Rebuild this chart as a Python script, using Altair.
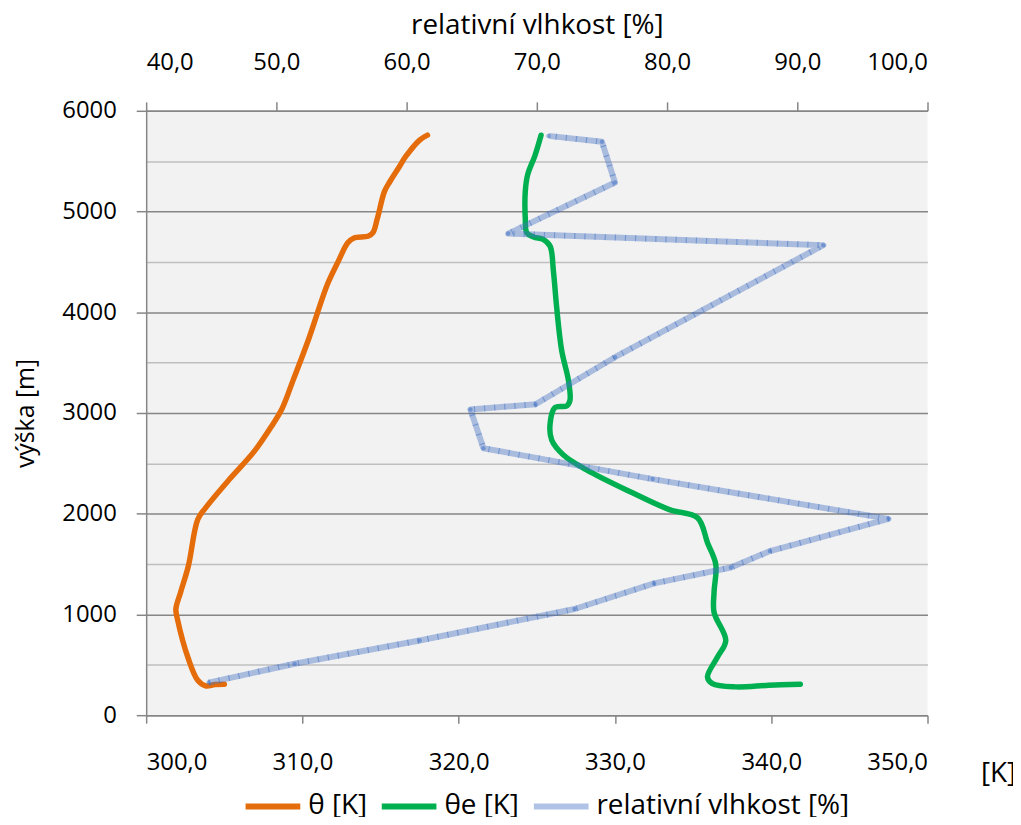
import altair as alt
import pandas as pd

# ---- data ----
series = ["θ [K]", "θe [K]", "relativní vlhkost [%]"]

theta_h = [307, 304, 291, 346, 560, 955, 1054, 1219, 1481, 1942, 2058, 2337, 2616, 2863,
           3045, 3324, 3735, 4278, 4508, 4689, 4738, 4755, 4787, 4935, 5200, 5298, 5445,
           5544, 5709, 5758]
theta_K = [305.0, 304.4, 303.8, 303.3, 302.7, 302.0, 301.9, 302.2, 302.7, 303.3, 303.8,
           305.3, 306.9, 308.0, 308.7, 309.4, 310.4, 311.6, 312.3, 312.9, 313.3, 314.2,
           314.5, 314.8, 315.25, 315.6, 316.2, 316.6, 317.5, 318.0]

thetae_h = [307, 297, 281, 314, 380, 577, 741, 1021, 1219, 1498, 1712, 1959, 2041, 2221,
            2436, 2584, 2732, 2897, 3055, 3070, 3126, 3324, 3620, 4047, 4409, 4656, 4722,
            4748, 4787, 4935, 5199, 5364, 5561, 5758]
thetae_K = [341.86, 339.84, 337.72, 336.23, 335.92, 336.56, 337.09, 336.34, 336.34, 336.45,
            335.92, 335.29, 333.48, 330.94, 328.18, 326.70, 325.95, 325.85, 326.17, 326.91,
            327.12, 327.02, 326.59, 326.27, 326.06, 325.85, 325.43, 324.79, 324.36, 324.26,
            324.26, 324.41, 324.89, 325.27]

rh_h = [324, 511, 741, 1054, 1308, 1466, 1629, 1949, 2344, 2650, 3035, 3087, 3554, 4666,
        4781, 5288, 5692, 5751]
rh_pct = [44.8, 51.4, 61.0, 72.9, 79.0, 84.9, 87.9, 97.0, 78.9, 65.9, 64.9, 69.9, 76.0,
          92.0, 67.8, 76.0, 75.0, 70.9]

x_ticks_K = [300, 310, 320, 330, 340, 350]
x_ticks_rh = [40, 50, 60, 70, 80, 90, 100]
y_ticks = list(range(0, 6001, 500))

colors = ["#E46C0A", "#00B050", "#4472C4"]

FONT = "Open Sans"
BLACK = "#000000"
AXIS_GRAY = "#868686"
RH_OPACITY = 0.42
TICK_FS = 24
TITLE_FS = 28

dfK = pd.concat([
    pd.DataFrame({"K": theta_K, "h": theta_h, "series": series[0], "idx": range(len(theta_K))}),
    pd.DataFrame({"K": thetae_K, "h": thetae_h, "series": series[1], "idx": range(len(thetae_K))}),
])
dfRH = pd.DataFrame({"rh": rh_pct, "h": rh_h, "series": series[2], "idx": range(len(rh_pct))})

legend_opacity_expr = "datum.value == '" + series[2] + "' ? " + str(RH_OPACITY) + " : 1"

legend = alt.Legend(
    title=None, orient="none", legendX=97, legendY=669, direction="horizontal", columns=3,
    symbolType="stroke", symbolSize=3025, symbolStrokeWidth=6,
    labelFont=FONT, labelFontSize=TITLE_FS, labelColor=BLACK, labelOffset=5, labelLimit=500,
    columnPadding=2,
    symbolOpacity=alt.ExprRef(expr=legend_opacity_expr),
)
color_enc = alt.Color("series:N", scale=alt.Scale(domain=series, range=colors), legend=legend)

y_enc = alt.Y(
    "h:Q",
    scale=alt.Scale(domain=[0, 6000], nice=False, zero=False),
    axis=alt.Axis(
        values=y_ticks,
        labelExpr="datum.value % 1000 == 0 ? format(datum.value, 'd') : ''",
        title="výška [m]", titleFont=FONT, titleFontSize=25, titleFontWeight="normal",
        titleColor=BLACK, titleX=-121, titleY=304, titleAlign="center", titleBaseline="middle",
        titleAngle=-90,
        labelFont=FONT, labelFontSize=TICK_FS, labelColor=BLACK, labelPadding=20,
        tickSize=10, tickWidth=1.5,
        tickColor={"condition": {"test": "datum.value % 1000 == 0", "value": AXIS_GRAY},
                   "value": "transparent"},
        grid=True, gridWidth=1.5,
        gridColor={"condition": {"test": "datum.value % 1000 == 0", "value": AXIS_GRAY},
                   "value": "#BFBFBF"},
        domainColor=AXIS_GRAY, domainWidth=1.5,
    ),
)

x_K = alt.X(
    "K:Q",
    scale=alt.Scale(domain=[300, 350], nice=False, zero=False),
    axis=alt.Axis(
        orient="bottom", values=x_ticks_K,
        labelExpr="replace(format(datum.value, '.1f'), '.', ',')",
        labelFont=FONT, labelFontSize=TICK_FS, labelColor=BLACK,
        labelBaseline="alphabetic", labelPadding=47,
        tickSize=8, tickWidth=1.5, tickColor=AXIS_GRAY,
        domainColor=AXIS_GRAY, domainWidth=1.5, grid=False,
        title="[K]", titleFont=FONT, titleFontSize=TITLE_FS, titleFontWeight="normal",
        titleColor=BLACK, titleX=857, titleY=59, titleAlign="center",
        titleBaseline="middle",
    ),
)

x_rh = alt.X(
    "rh:Q",
    scale=alt.Scale(domain=[40, 100], nice=False, zero=False),
    axis=alt.Axis(
        orient="top", values=x_ticks_rh,
        labelExpr="replace(format(datum.value, '.1f'), '.', ',')",
        labelFont=FONT, labelFontSize=TICK_FS, labelColor=BLACK,
        labelBaseline="alphabetic", labelPadding=33,
        tickSize=9, tickWidth=1.5, tickColor=AXIS_GRAY,
        domainColor=AXIS_GRAY, domainWidth=1.5, grid=False,
        title="relativní vlhkost [%]", titleFont=FONT, titleFontSize=TITLE_FS,
        titleFontWeight="normal", titleColor=BLACK, titleX=393, titleY=-86,
        titleAlign="center", titleBaseline="middle",
    ),
)

base_K = alt.Chart(dfK).mark_line(
    strokeWidth=5.5, strokeCap="round", strokeJoin="round", interpolate="catmull-rom"
).encode(
    x=x_K, y=y_enc, color=color_enc, order=alt.Order("idx:Q"),
)

rh_line = alt.Chart(dfRH).mark_line(
    strokeWidth=6, strokeJoin="round", strokeOpacity=RH_OPACITY
).encode(x=x_rh, y=y_enc, color=color_enc, order=alt.Order("idx:Q"))

rh_hatch = alt.Chart(dfRH).mark_line(
    strokeWidth=6, strokeDash=[1.2, 9], strokeCap="butt", color="#4472C4", strokeOpacity=0.5
).encode(x=x_rh, y=y_enc, order=alt.Order("idx:Q"))

rh_pts = alt.Chart(dfRH).mark_point(filled=True, size=20, color="#4472C4", opacity=0.55).encode(
    x=x_rh, y=y_enc,
)

rh_layer = alt.layer(rh_line, rh_hatch, rh_pts)

chart = alt.layer(base_K, rh_layer).resolve_scale(x="independent").resolve_axis(
    x="independent"
).properties(
    width=786, height=608,
    autosize=alt.AutoSizeParams(type="none"),
    padding={"left": 139, "top": 101, "right": 86, "bottom": 100},
    background="white",
).configure_view(fill="#F2F2F2", stroke=None)

chart.save("out.html", embed_options={"renderer": "svg", "actions": False})
